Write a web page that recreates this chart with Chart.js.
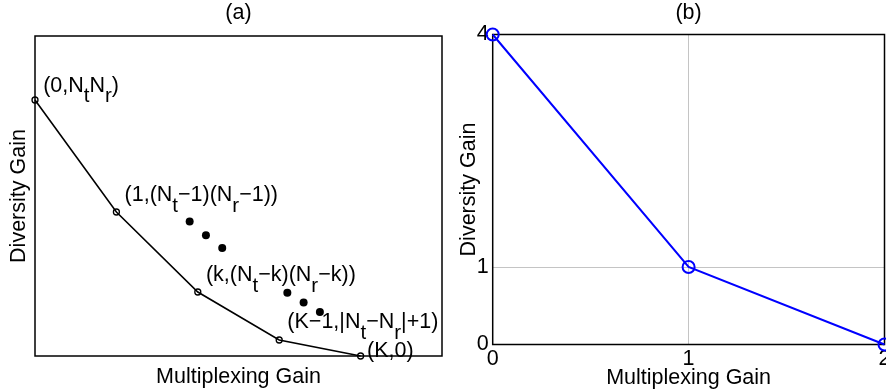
<!DOCTYPE html>
<html>
<head>
<meta charset="utf-8">
<script src="https://cdn.jsdelivr.net/npm/chart.js@4.4.1/dist/chart.umd.min.js"></script>
<style>
  html, body { margin: 0; padding: 0; background: #fff; overflow: hidden; }
  .wrap { position: relative; width: 886px; height: 392px; }
  .wrap canvas { position: absolute; left: 0; top: 0; }
</style>
</head>
<body>
<div class="wrap">
  <canvas id="chartA" width="886" height="392"></canvas>
  <canvas id="chartB" width="886" height="392"></canvas>
</div>
<script>
// (a) general diversity-multiplexing tradeoff, corner points (k, (Nt-k)(Nr-k))
const tradeoffGain = [0, 1, 2, 3, 4];
const tradeoffDiversity = [16, 9, 4, 1, 0];
// "..." continuation dots between labelled corners
const dotsGain = [1.9, 2.1, 2.3, 3.1, 3.3, 3.5];
const dotsDiversity = [8.4, 7.55, 6.75, 3.95, 3.35, 2.75];
// corner labels, "_" marks a one-character subscript
const cornerLabels = ['(0,N_tN_r)', '(1,(N_t\u22121)(N_r\u22121))', '(k,(N_t\u2212k)(N_r\u2212k))', '(K\u22121,|N_t\u2212N_r|+1)', '(K,0)'];
const cornerLabelGain = [0.1, 1.1, 2.1, 3.1, 4.08];
const cornerLabelDiversity = [17, 10.15, 5.15, 2.2, 0.4];

// (b) 2x2 example tradeoff
const exampleGain = [0, 1, 2];
const exampleDiversity = [4, 1, 0];
const gainTicks = [0, 1, 2];
const diversityTicks = [0, 1, 4];

const FONT = "'Liberation Sans', Arial, Helvetica, sans-serif";
const FS = 21.5;
Chart.defaults.font.family = FONT;
Chart.defaults.font.size = FS;
Chart.defaults.color = '#000';

function toPoints(xs, ys) { return xs.map((x, i) => ({ x: x, y: ys[i] })); }

// text with single-character subscripts written as _c
function drawRich(ctx, str, x, baseline) {
  ctx.textAlign = 'left';
  ctx.textBaseline = 'alphabetic';
  let cx = x;
  for (let i = 0; i < str.length; i++) {
    let ch = str[i], sub = false;
    if (ch === '_' && i + 1 < str.length) { ch = str[++i]; sub = true; }
    ctx.font = (sub ? FS - 1 : FS) + 'px ' + FONT;
    ctx.fillText(ch, cx, baseline + (sub ? 10.5 : 0));
    cx += ctx.measureText(ch).width;
  }
}

// axes box, title and axis labels (MATLAB style)
function framePlugin(opts) {
  return {
    id: 'frame',
    beforeDatasetsDraw(chart) {
      const a = chart.chartArea, ctx = chart.ctx;
      ctx.save();
      ctx.strokeStyle = '#000';
      ctx.lineWidth = 1.5;
      ctx.strokeRect(a.left, a.top, a.right - a.left, a.bottom - a.top);
      ctx.restore();
    },
    afterDraw(chart) {
      const a = chart.chartArea, ctx = chart.ctx;
      const cx = (a.left + a.right) / 2, cy = (a.top + a.bottom) / 2;
      ctx.save();
      ctx.fillStyle = '#000';
      ctx.font = FS + 'px ' + FONT;
      ctx.textAlign = 'center';
      ctx.textBaseline = 'alphabetic';
      ctx.fillText(opts.title, cx, a.top - opts.titleGap);
      ctx.fillText('Multiplexing Gain', cx, a.bottom + opts.xLabelGap);
      ctx.translate(a.left - opts.yLabelGap, cy);
      ctx.rotate(-Math.PI / 2);
      ctx.fillText('Diversity Gain', 0, 0);
      ctx.restore();
      if (opts.labels) {
        const xs = chart.scales.x, ys = chart.scales.y;
        ctx.save();
        ctx.fillStyle = '#000';
        opts.labels.forEach((t, i) => {
          const px = xs.getPixelForValue(cornerLabelGain[i]);
          const py = ys.getPixelForValue(cornerLabelDiversity[i]);
          drawRich(ctx, t, px, py + 7.5);
        });
        ctx.restore();
      }
    }
  };
}

// (a)
new Chart(document.getElementById('chartA'), {
  type: 'scatter',
  data: {
    datasets: [
      {
        data: toPoints(tradeoffGain, tradeoffDiversity),
        showLine: true,
        borderColor: '#000',
        borderWidth: 1.6,
        pointRadius: 3,
        pointBorderWidth: 1.3,
        pointBorderColor: '#000',
        pointBackgroundColor: 'rgba(0,0,0,0)',
        clip: false
      },
      {
        data: toPoints(dotsGain, dotsDiversity),
        showLine: false,
        pointRadius: 4,
        pointBorderWidth: 0,
        pointBackgroundColor: '#000',
        clip: false
      }
    ]
  },
  options: {
    responsive: false,
    animation: false,
    events: [],
    layout: { autoPadding: false, padding: { left: 35, top: 36, right: 444, bottom: 36 } },
    plugins: { legend: { display: false }, tooltip: { enabled: false } },
    scales: {
      x: { type: 'linear', min: 0, max: 5, display: false },
      y: { type: 'linear', min: 0, max: 20, display: false }
    }
  },
  plugins: [framePlugin({ title: '(a)', titleGap: 17.5, xLabelGap: 27, yLabelGap: 10, labels: cornerLabels })]
});

// fixed axis sizes so the plot box lands where the layout padding puts it
const Y_AXIS_W = 40, X_AXIS_H = 30;
function fixedFit(scale) {
  if (scale.isHorizontal()) scale.height = X_AXIS_H; else scale.width = Y_AXIS_W;
  scale.paddingLeft = scale.paddingRight = scale.paddingTop = scale.paddingBottom = 0;
}

// (b)
new Chart(document.getElementById('chartB'), {
  type: 'scatter',
  data: {
    datasets: [{
      data: toPoints(exampleGain, exampleDiversity),
      showLine: true,
      borderColor: '#0000ff',
      borderWidth: 2,
      pointRadius: 6,
      pointBorderWidth: 2,
      pointBorderColor: '#0000ff',
      pointBackgroundColor: 'rgba(0,0,0,0)',
      clip: false
    }]
  },
  options: {
    responsive: false,
    animation: false,
    events: [],
    layout: { autoPadding: false, padding: { left: 492.7 - Y_AXIS_W, top: 34.5, right: 1.5, bottom: 47.5 - X_AXIS_H } },
    plugins: { legend: { display: false }, tooltip: { enabled: false } },
    scales: {
      x: {
        type: 'linear', min: 0, max: 2,
        afterBuildTicks: s => { s.ticks = gainTicks.map(v => ({ value: v })); },
        afterFit: fixedFit,
        ticks: { padding: 2, autoSkip: false, maxRotation: 0, color: '#000' },
        grid: { color: '#c4c4c4', lineWidth: 1, drawTicks: false },
        border: { display: false }
      },
      y: {
        type: 'linear', min: 0, max: 4,
        afterBuildTicks: s => { s.ticks = diversityTicks.map(v => ({ value: v })); },
        afterFit: fixedFit,
        ticks: { padding: 4, autoSkip: false, color: '#000' },
        grid: { color: '#c4c4c4', lineWidth: 1, drawTicks: false },
        border: { display: false }
      }
    }
  },
  plugins: [framePlugin({ title: '(b)', titleGap: 16, xLabelGap: 39.5, yLabelGap: 17.7 })]
});
</script>
</body>
</html>
